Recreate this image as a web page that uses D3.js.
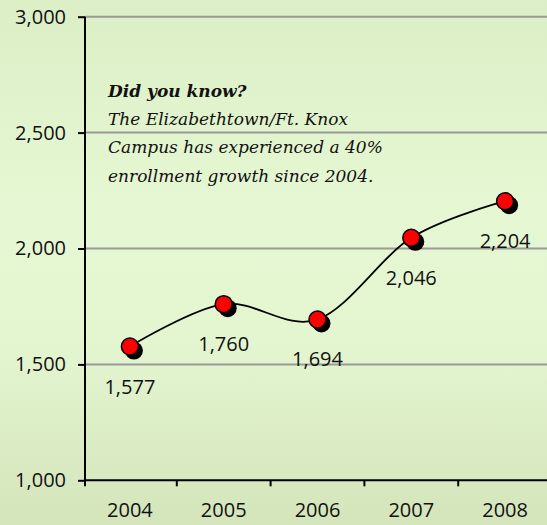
<!DOCTYPE html>
<html>
<head>
<meta charset="utf-8">
<script src="https://cdn.jsdelivr.net/npm/d3@7/dist/d3.min.js"></script>
<style>
  html, body { margin: 0; padding: 0; overflow: hidden; }
  svg { display: block; }
</style>
</head>
<body>
<script>
const years = ["2004", "2005", "2006", "2007", "2008"];
const enrollment = [1577, 1760, 1694, 2046, 2204];
const yTicks = [1000, 1500, 2000, 2500, 3000];
const gridValues = [1500, 2000, 2500, 3000];
const noteTitle = "Did you know?";
const noteLines = [
  "The Elizabethtown/Ft. Knox",
  "Campus has experienced a 40%",
  "enrollment growth since 2004."
];

const W = 547, H = 525;
const svg = d3.select("body").append("svg").attr("width", W).attr("height", H);

const defs = svg.append("defs");
const grad = defs.append("linearGradient").attr("id", "bg").attr("x1", 0).attr("y1", 0).attr("x2", 0).attr("y2", 1);
grad.append("stop").attr("offset", "0%").attr("stop-color", "#dbeec5");
grad.append("stop").attr("offset", "40%").attr("stop-color", "#e6f8d3");
grad.append("stop").attr("offset", "65%").attr("stop-color", "#e4f6d0");
grad.append("stop").attr("offset", "100%").attr("stop-color", "#d4e5bb");
svg.append("rect").attr("width", W).attr("height", H).attr("fill", "url(#bg)");

const x = d3.scaleBand().domain(years).range([83, 552]).padding(0);
const y = d3.scaleLinear().domain([1000, 3000]).range([480.3, 16.7]);
const axisX = 85;
const fontSans = "'Open Sans', 'DejaVu Sans', sans-serif";

// gridlines
svg.append("g").selectAll("line").data(gridValues).join("line")
  .attr("x1", axisX).attr("x2", W)
  .attr("y1", d => y(d)).attr("y2", d => y(d))
  .attr("stroke", "#9a9a9a").attr("stroke-width", 2);

// y axis
const yAxis = d3.axisLeft(y).tickValues(yTicks).tickSize(7).tickPadding(12)
  .tickFormat(d3.format(","));
const gy = svg.append("g").attr("transform", `translate(${axisX},0)`).call(yAxis);
gy.select(".domain").remove();
gy.selectAll(".tick line").attr("stroke", "#000").attr("stroke-width", 2);
gy.selectAll(".tick text").attr("font-family", fontSans).attr("font-size", 20).attr("fill", "#111");
svg.append("line").attr("x1", axisX).attr("x2", axisX).attr("y1", y(3000)).attr("y2", y(1000) + 6)
  .attr("stroke", "#000").attr("stroke-width", 2);

// x axis
const xAxis = d3.axisBottom(x).tickSize(0).tickPadding(23);
const gx = svg.append("g").attr("transform", `translate(0,${y(1000)})`).call(xAxis);
gx.select(".domain").remove();
gx.selectAll(".tick text").attr("font-family", fontSans).attr("font-size", 20).attr("fill", "#111");
svg.append("line").attr("x1", axisX).attr("x2", W).attr("y1", y(1000)).attr("y2", y(1000))
  .attr("stroke", "#000").attr("stroke-width", 2);
svg.append("g").selectAll("line").data(years.slice(1)).join("line")
  .attr("x1", d => x(d)).attr("x2", d => x(d))
  .attr("y1", y(1000)).attr("y2", y(1000) + 6)
  .attr("stroke", "#000").attr("stroke-width", 2);

// note
const note = svg.append("text").attr("font-family", "'DejaVu Serif', serif").attr("font-style", "italic")
  .attr("fill", "#111").attr("font-size", 17);
note.append("tspan").attr("x", 108).attr("y", 97).attr("font-weight", "bold").text(noteTitle);
noteLines.forEach((t, i) => note.append("tspan").attr("x", 108).attr("y", 125 + i * 28.3).text(t));

// data
const pts = years.map((yr, i) => ({ yr, v: enrollment[i] }));
const cx = d => x(d.yr) + x.bandwidth() / 2;
const line = d3.line().x(cx).y(d => y(d.v)).curve(d3.curveCardinal.tension(0));
svg.append("path").datum(pts).attr("d", line).attr("fill", "none")
  .attr("stroke", "#000").attr("stroke-width", 1.8);

// shadows
svg.append("g").selectAll("circle").data(pts).join("circle")
  .attr("cx", d => cx(d) + 4).attr("cy", d => y(d.v) + 4).attr("r", 9)
  .attr("fill", "#000");
// markers
svg.append("g").selectAll("circle").data(pts).join("circle")
  .attr("cx", cx).attr("cy", d => y(d.v)).attr("r", 8.5)
  .attr("fill", "#ff0000").attr("stroke", "#000").attr("stroke-width", 1.5);

// data labels
svg.append("g").selectAll("text").data(pts).join("text")
  .attr("x", cx).attr("y", d => y(d.v) + 47)
  .attr("text-anchor", "middle")
  .attr("font-family", fontSans).attr("font-size", 20).attr("fill", "#111")
  .text(d => d3.format(",")(d.v));
</script>
</body>
</html>
